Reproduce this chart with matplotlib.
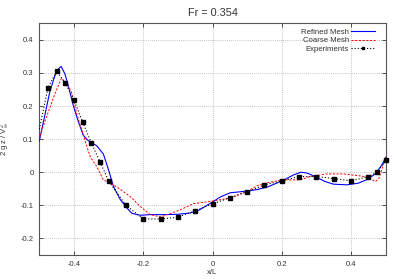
import matplotlib
matplotlib.use("Agg")
import matplotlib.pyplot as plt
from matplotlib.lines import Line2D

plt.rcParams['font.family'] = ['Liberation Sans', 'DejaVu Sans']
plt.rcParams['mathtext.fontset'] = 'custom'
plt.rcParams['mathtext.rm'] = 'Liberation Sans'
plt.rcParams['mathtext.it'] = 'Liberation Sans'

title = "Fr = 0.354"
xlabel = "x/L"
ylabel = r"2 g z / V$_\infty^2$"

refined_x = [-0.500, -0.484, -0.470, -0.455, -0.445, -0.437, -0.426, -0.414, -0.402, -0.387,
             -0.373, -0.362, -0.350, -0.334, -0.315, -0.300, -0.286, -0.266, -0.247, -0.233,
             -0.209, -0.180, -0.140, -0.100, -0.064, -0.040, -0.016, 0.000, 0.022, 0.051,
             0.099, 0.130, 0.160, 0.205, 0.234, 0.255, 0.272, 0.296, 0.325, 0.349,
             0.388, 0.421, 0.446, 0.470, 0.489, 0.500]
refined_y = [0.095, 0.172, 0.242, 0.292, 0.312, 0.320, 0.297, 0.252, 0.202, 0.152,
             0.112, 0.098, 0.090, 0.080, 0.055, 0.007, -0.043, -0.083, -0.108, -0.124,
             -0.130, -0.128, -0.128, -0.127, -0.123, -0.115, -0.100, -0.090, -0.075, -0.062,
             -0.057, -0.052, -0.044, -0.024, -0.008, 0.000, -0.002, -0.013, -0.028, -0.036,
             -0.038, -0.033, -0.022, -0.005, 0.022, 0.045]

coarse_x = [-0.500, -0.491, -0.474, -0.455, -0.436, -0.421, -0.407, -0.392, -0.373, -0.367,
            -0.353, -0.334, -0.315, -0.295, -0.271, -0.238, -0.209, -0.180, -0.149, -0.099,
            -0.055, -0.007, 0.051, 0.099, 0.130, 0.162, 0.200, 0.253, 0.282, 0.330,
            0.378, 0.426, 0.450, 0.470, 0.480, 0.500]
coarse_y = [0.100, 0.133, 0.182, 0.237, 0.284, 0.267, 0.242, 0.177, 0.112, 0.092,
            0.047, 0.017, -0.023, -0.033, -0.048, -0.073, -0.103, -0.128, -0.135, -0.116,
            -0.095, -0.088, -0.078, -0.058, -0.040, -0.031, -0.023, -0.023, -0.013, -0.005,
            -0.005, -0.011, -0.015, -0.028, -0.020, 0.045]

exp_x = [-0.5, -0.475, -0.45, -0.425, -0.4, -0.375, -0.35, -0.325, -0.3, -0.25,
         -0.2, -0.15, -0.1, -0.05, 0.0, 0.05, 0.1, 0.15, 0.2, 0.25,
         0.3, 0.35, 0.4, 0.45, 0.475, 0.5]
exp_y = [0.13, 0.255, 0.305, 0.27, 0.218, 0.152, 0.089, 0.032, -0.026, -0.10,
         -0.141, -0.141, -0.136, -0.116, -0.096, -0.077, -0.059, -0.038, -0.026, -0.013,
         -0.013, -0.019, -0.026, -0.013, 0.0, 0.037]

labels = ["Refined Mesh", "Coarse Mesh", "Experiments"]
xticks = [-0.4, -0.2, 0, 0.2, 0.4]
yticks = [-0.2, -0.1, 0, 0.1, 0.2, 0.3, 0.4]

fig = plt.figure(figsize=(3.99, 2.79), dpi=100)
ax = fig.add_axes([0.0985, 0.086, 0.8682, 0.8305])

txtcol = '#333333'
blue_kw = dict(color='#0000ff', lw=0.8)
red_kw = dict(color='#ff0000', lw=0.7, ls=(0, (2.2, 1.6)))
exp_line_kw = dict(color='black', lw=0.8, ls=(0, (1, 1.8)))
exp_mark_kw = dict(color='black', marker='s', ms=2.4, ls='none')

ax.plot(refined_x, refined_y, zorder=3, **blue_kw)
ax.plot(coarse_x, coarse_y, zorder=3, **red_kw)
ax.plot(exp_x, exp_y, zorder=4, **exp_line_kw)
ax.plot(exp_x[1:], exp_y[1:], zorder=5, clip_on=False, **exp_mark_kw)

ax.set_xlim(-0.5, 0.5)
ax.set_ylim(-0.25, 0.45)
ax.set_xticks(xticks)
ax.set_yticks(yticks)
ax.set_xticklabels(["-0.4", "-0.2", "0", "0.2", "0.4"])
ax.set_yticklabels(["-0.2", "-0.1", "0", "0.1", "0.2", "0.3", "0.4"])
ax.grid(True, color='#b0b0b0', ls=(0, (1, 1.5)), lw=0.6)
ax.tick_params(direction='in', top=True, right=True, length=3, width=0.6,
               labelsize=5.5, colors=txtcol, pad=4)
for s in ax.spines.values():
    s.set_color('#555555')
    s.set_linewidth(0.8)

ax.set_title(title, fontsize=7.8, color=txtcol, pad=5)
ax.set_xlabel(xlabel, fontsize=5.5, color=txtcol, labelpad=1)
ax.set_ylabel(ylabel, fontsize=5.5, color=txtcol, labelpad=6)

handles = [Line2D([], [], **blue_kw),
           Line2D([], [], **red_kw),
           Line2D([], [], marker='s', ms=2.1, **exp_line_kw)]
leg = ax.legend(handles, labels, loc='upper right', bbox_to_anchor=(0.975, 0.985), frameon=False,
                markerfirst=False, fontsize=5.6, handlelength=3.1, handletextpad=0.3,
                labelspacing=0.15, borderpad=0.2, borderaxespad=0.0, numpoints=1)
for t in leg.get_texts():
    t.set_color(txtcol)

fig.savefig("out.png", dpi=100)
